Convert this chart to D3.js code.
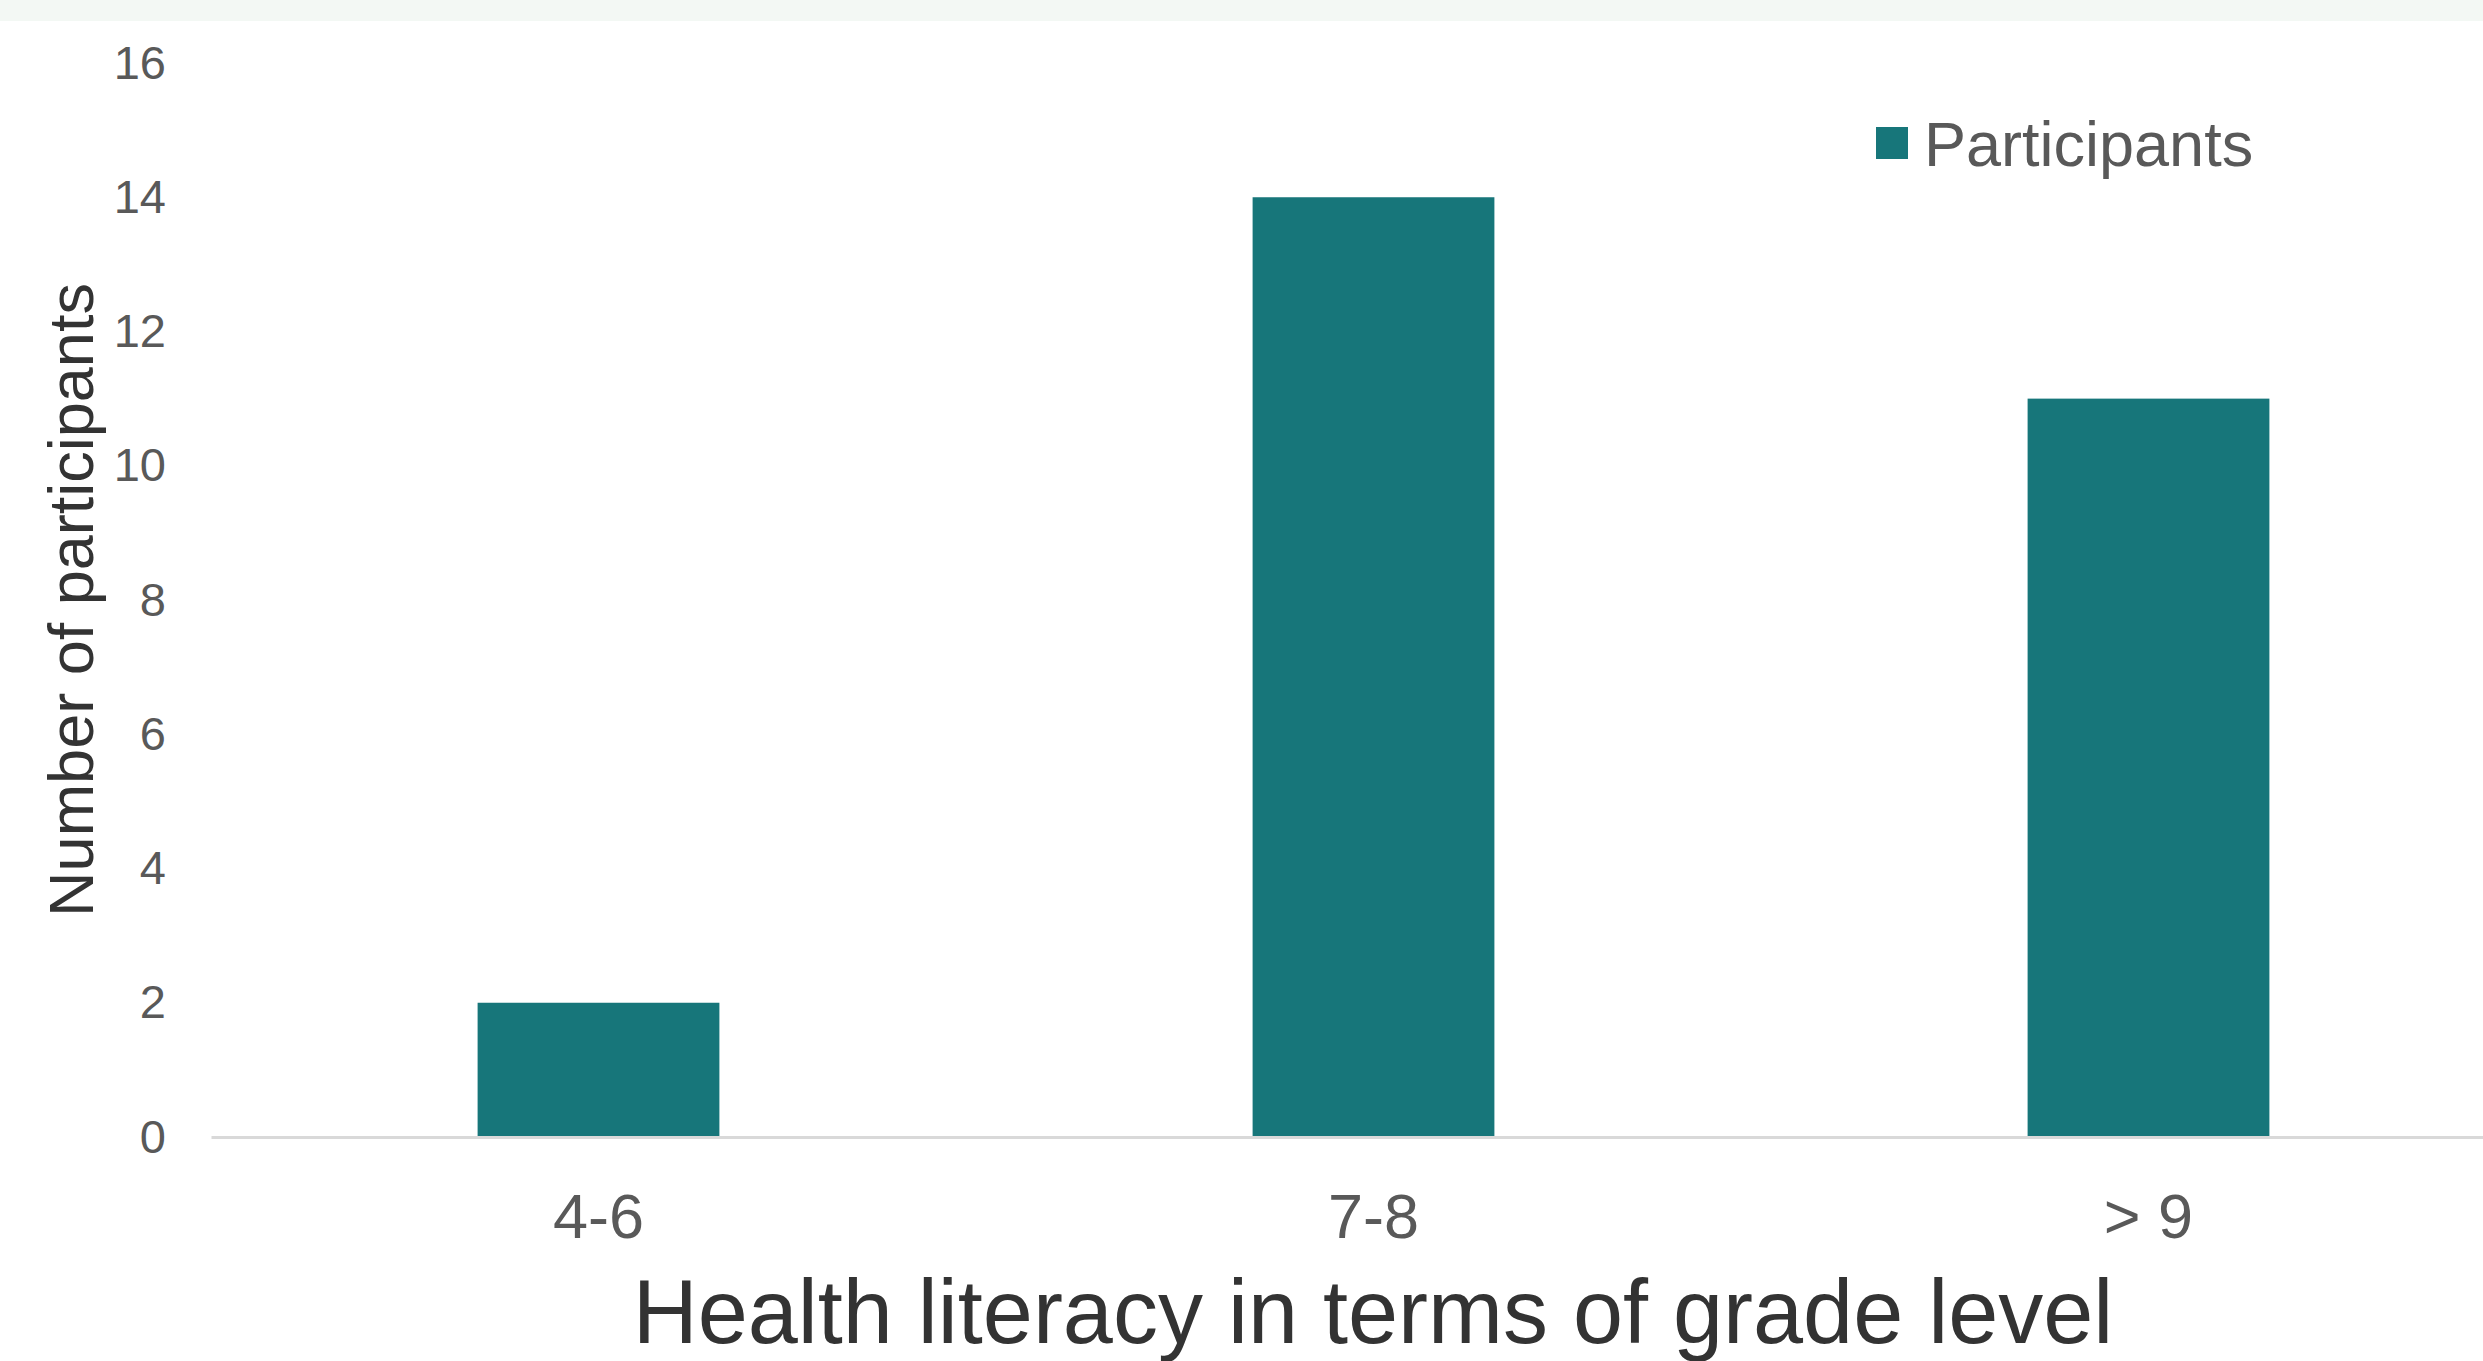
<!DOCTYPE html>
<html>
<head>
  <meta charset="utf-8">
  <title>Health literacy in terms of grade level</title>
  <script src="https://d3js.org/d3.v7.min.js"></script>
  <style>
    body {
      margin: 0;
      background: #ffffff;
      font-family: 'Liberation Sans', Arial, Helvetica, sans-serif;
    }
    #chart svg { display: block; }
  </style>
</head>
<body>
  <div id="chart"></div>
  <script>
    // data
    const categories = ["4-6", "7-8", "> 9"];
    const participants = [2, 14, 11];
    const yTicks = [0, 2, 4, 6, 8, 10, 12, 14, 16];
    const seriesName = "Participants";

    const width = 2483, height = 1361;
    const barColor = "#17767a";

    const svg = d3.select("#chart").append("svg")
      .attr("width", width)
      .attr("height", height);

    // light strip along the top
    svg.append("rect")
      .attr("x", 0).attr("y", 0)
      .attr("width", width).attr("height", 21)
      .attr("fill", "#f3f8f4");

    const x = d3.scaleBand()
      .domain(categories)
      .range([211, 2536])
      .paddingInner(0.688)
      .paddingOuter(0.344);

    const y = d3.scaleLinear()
      .domain([0, 16])
      .range([1137, 63]);

    // y axis: labels only
    const yAxis = svg.append("g")
      .attr("transform", "translate(211,0)")
      .call(d3.axisLeft(y).tickValues(yTicks).tickSize(0).tickPadding(45));
    yAxis.select(".domain").remove();
    yAxis.selectAll("text")
      .attr("fill", "#595959")
      .style("font-family", "'Liberation Sans', Arial, sans-serif")
      .style("font-size", "47px");

    // bars
    svg.selectAll("rect.bar")
      .data(participants)
      .enter()
      .append("rect")
      .attr("class", "bar")
      .attr("x", (d, i) => x(categories[i]))
      .attr("y", d => y(d))
      .attr("width", x.bandwidth())
      .attr("height", d => y(0) - y(d))
      .attr("fill", barColor);

    // x axis (baseline + category labels)
    const xAxis = svg.append("g")
      .attr("transform", "translate(0," + y(0) + ")")
      .call(d3.axisBottom(x).tickSize(0).tickSizeOuter(0));
    xAxis.select(".domain")
      .attr("stroke", "#d9d9d9")
      .attr("stroke-width", 3);
    xAxis.selectAll("text")
      .attr("y", 101)
      .attr("dy", 0)
      .attr("fill", "#595959")
      .style("font-family", "'Liberation Sans', Arial, sans-serif")
      .style("font-size", "63px");

    // axis titles
    svg.append("text")
      .attr("x", 1373)
      .attr("y", 1343)
      .attr("text-anchor", "middle")
      .attr("fill", "#333333")
      .style("font-size", "90px")
      .text("Health literacy in terms of grade level");

    svg.append("text")
      .attr("transform", "translate(93,600) rotate(-90)")
      .attr("text-anchor", "middle")
      .attr("fill", "#333333")
      .style("font-size", "63px")
      .text("Number of participants");

    // legend
    const legend = svg.append("g").attr("transform", "translate(1876,127)");
    legend.append("rect")
      .attr("width", 32).attr("height", 32)
      .attr("fill", barColor);
    legend.append("text")
      .attr("x", 48)
      .attr("y", 39)
      .attr("fill", "#595959")
      .style("font-size", "63px")
      .text(seriesName);
  </script>
</body>
</html>
